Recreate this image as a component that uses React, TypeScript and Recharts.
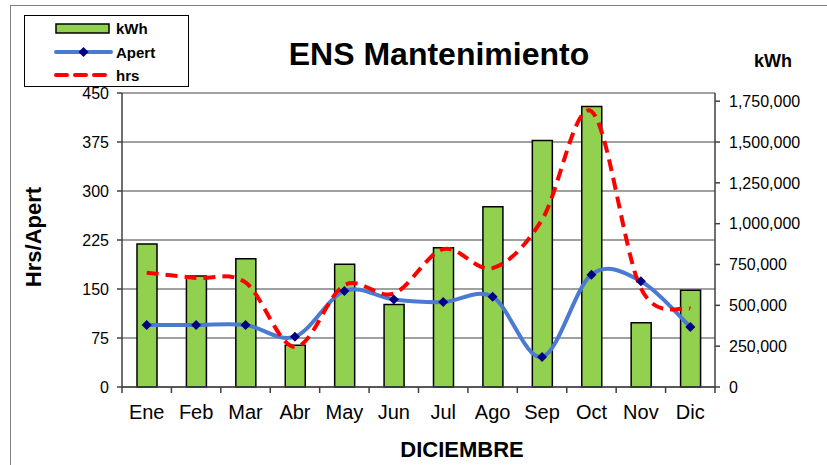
import { ComposedChart, Bar, Line, XAxis, YAxis, CartesianGrid } from 'recharts';

const months = ['Ene', 'Feb', 'Mar', 'Abr', 'May', 'Jun', 'Jul', 'Ago', 'Sep', 'Oct', 'Nov', 'Dic'];
const kwh = [875000, 679000, 785000, 256000, 751000, 505000, 853000, 1104000, 1509000, 1718000, 393000, 593000];
const apert = [95, 95, 95, 77, 147, 134, 130, 138, 46, 172, 162, 92];
const hrs = [175, 167, 160, 61, 156, 143, 211, 182, 256, 422, 151, 120];
const leftTicks = [0, 75, 150, 225, 300, 375, 450];
const rightTicks = [0, 250000, 500000, 750000, 1000000, 1250000, 1500000, 1750000];

const data = months.map((m, i) => ({ name: m, kwh: kwh[i], apert: apert[i], hrs: hrs[i] }));

const FONT = '"Liberation Sans", Arial, sans-serif';
const PLOT_LEFT = 122;
const PLOT_RIGHT = 715;
const PLOT_BOTTOM = 387;
const BAND = (PLOT_RIGHT - PLOT_LEFT) / months.length;

// excel-like smoothed line (catmull-rom through the points)
const excelSmooth = (context: any) => {
  let pts: number[][] = [];
  return {
    areaStart() {},
    areaEnd() {},
    lineStart() {
      pts = [];
    },
    point(x: number, y: number) {
      pts.push([+x, +y]);
    },
    lineEnd() {
      if (!pts.length) return;
      context.moveTo(pts[0][0], pts[0][1]);
      for (let i = 0; i < pts.length - 1; i++) {
        const p0 = pts[i - 1] || pts[i];
        const p1 = pts[i];
        const p2 = pts[i + 1];
        const p3 = pts[i + 2] || p2;
        context.bezierCurveTo(
          p1[0] + (p2[0] - p0[0]) / 6,
          p1[1] + (p2[1] - p0[1]) / 6,
          p2[0] - (p3[0] - p1[0]) / 6,
          p2[1] - (p3[1] - p1[1]) / 6,
          p2[0],
          p2[1]
        );
      }
    },
  };
};

const Diamond = (props: any) => {
  const { cx, cy, index } = props;
  if (cx == null || cy == null) return null;
  return <polygon key={`d-${index}`} points={`${cx},${cy - 5} ${cx + 5},${cy} ${cx},${cy + 5} ${cx - 5},${cy}`} fill="#000080" />;
};

const MonthTick = (props: any) => {
  const { x, payload, index } = props;
  return (
    <g>
      <line x1={x - BAND / 2} y1={PLOT_BOTTOM} x2={x - BAND / 2} y2={PLOT_BOTTOM + 6} stroke="#404040" strokeWidth={1.5} />
      {index === months.length - 1 && (
        <line x1={x + BAND / 2} y1={PLOT_BOTTOM} x2={x + BAND / 2} y2={PLOT_BOTTOM + 6} stroke="#404040" strokeWidth={1.5} />
      )}
      <text x={x} y={PLOT_BOTTOM + 32} textAnchor="middle" fontSize={20} fontFamily={FONT} fill="#000">
        {payload.value}
      </text>
    </g>
  );
};

export default function App() {
  return (
    <div style={{ position: 'absolute', left: 0, top: 0, width: 827, height: 465, background: '#fff', overflow: 'hidden', fontFamily: FONT }}>
      <div style={{ position: 'absolute', left: 10, top: 5, width: 830, height: 480, border: '1.5px solid #808080' }} />
      <ComposedChart width={827} height={465} data={data} margin={{ top: 93, right: 22, bottom: 48, left: 62 }}>
        <CartesianGrid yAxisId="left" vertical={false} stroke="#808080" strokeWidth={1.5} />
        <XAxis dataKey="name" tick={<MonthTick />} tickLine={false} axisLine={{ stroke: '#404040', strokeWidth: 1.5 }} height={30} interval={0} />
        <YAxis
          yAxisId="left"
          domain={[0, 450]}
          ticks={leftTicks}
          width={60}
          tickSize={5}
          tickMargin={8}
          tick={{ fontSize: 16, fill: '#000', fontFamily: FONT }}
          axisLine={{ stroke: '#404040', strokeWidth: 1.5 }}
          tickLine={{ stroke: '#404040', strokeWidth: 1.5 }}
        />
        <YAxis
          yAxisId="right"
          orientation="right"
          domain={[0, 1800000]}
          ticks={rightTicks}
          width={90}
          tickSize={5}
          tickMargin={9}
          tickFormatter={(v: number) => v.toLocaleString('en-US')}
          tick={{ fontSize: 16, fill: '#000', fontFamily: FONT, textAnchor: 'start' }}
          axisLine={{ stroke: '#404040', strokeWidth: 1.5 }}
          tickLine={{ stroke: '#404040', strokeWidth: 1.5 }}
        />
        <Bar yAxisId="right" dataKey="kwh" barSize={20} fill="#92D050" stroke="#000" strokeWidth={1.5} isAnimationActive={false} />
        <Line yAxisId="left" type={excelSmooth as any} dataKey="apert" stroke="#4A7BD0" strokeWidth={4} dot={<Diamond />} activeDot={false} isAnimationActive={false} />
        <Line yAxisId="left" type={excelSmooth as any} dataKey="hrs" stroke="#FF0000" strokeWidth={4} strokeDasharray="12 7" dot={false} activeDot={false} isAnimationActive={false} />
      </ComposedChart>

      <div style={{ position: 'absolute', left: 24, top: 15, width: 163, height: 70, border: '1px solid #000', background: '#fff' }}>
        <svg width={163} height={70} style={{ position: 'absolute', left: 0, top: 0 }}>
          <rect x={31} y={8} width={53} height={9} fill="#92D050" stroke="#000" strokeWidth={1.5} />
          <line x1={31} y1={36} x2={86} y2={36} stroke="#4A7BD0" strokeWidth={4} strokeLinecap="round" />
          <polygon points="58.5,31 63.5,36 58.5,41 53.5,36" fill="#000080" />
          <line x1={31} y1={59} x2={86} y2={59} stroke="#FF0000" strokeWidth={4} strokeDasharray="11 8" strokeLinecap="round" />
          <text x={91} y={18} fontSize={15} fontWeight="bold" fontFamily={FONT}>kWh</text>
          <text x={91} y={42} fontSize={15} fontWeight="bold" fontFamily={FONT}>Apert</text>
          <text x={91} y={65} fontSize={15} fontWeight="bold" fontFamily={FONT}>hrs</text>
        </svg>
      </div>

      <div style={{ position: 'absolute', left: 239, top: 35, width: 400, textAlign: 'center', fontSize: 32, lineHeight: '38px', fontWeight: 'bold' }}>ENS Mantenimiento</div>
      <div style={{ position: 'absolute', left: 738, top: 51, width: 70, textAlign: 'center', fontSize: 18, fontWeight: 'bold' }}>kWh</div>
      <div style={{ position: 'absolute', left: 312, top: 437, width: 300, textAlign: 'center', fontSize: 22, fontWeight: 'bold' }}>DICIEMBRE</div>
      <div
        style={{
          position: 'absolute',
          left: 34,
          top: 237,
          transform: 'translate(-50%, -50%) rotate(-90deg)',
          fontSize: 22,
          fontWeight: 'bold',
          whiteSpace: 'nowrap',
        }}
      >
        Hrs/Apert
      </div>
    </div>
  );
}
